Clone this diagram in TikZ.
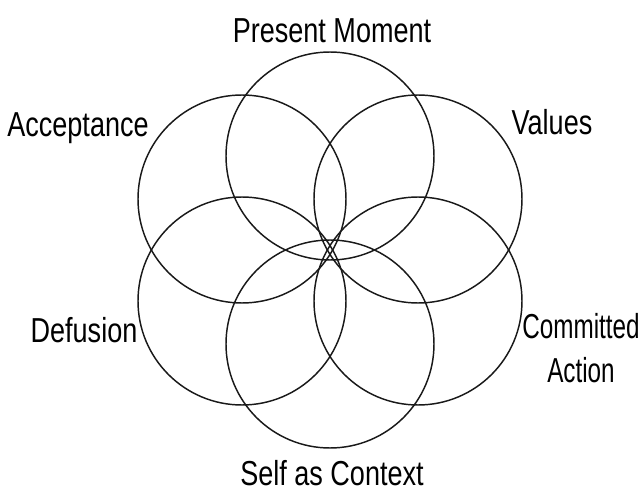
\documentclass[tikz,border=0pt]{standalone}
\usepackage{fontspec}
\setmainfont{Liberation Sans}
\usepackage{graphicx}
\usetikzlibrary{positioning}

\newcommand{\narrow}[2][0.78]{\scalebox{#1}[1]{#2}}

\begin{document}
\begin{tikzpicture}[x=0.75pt, y=-0.75pt,
		every node/.style={inner sep=0pt, font=\fontsize{26}{33}\selectfont},
		petal/.style={draw=black!90, line width=1.1pt}]
		\useasboundingbox (0,0) rectangle (644,492);

		% centres of the six circles
		\coordinate (mid) at (330,250);
		\coordinate (cpm) at (330,156);
		\coordinate (cval) at (418,199);
		\coordinate (cca) at (418,301);
		\coordinate (csc) at (330,344);
		\coordinate (cdef) at (242,301);
		\coordinate (cacc) at (242,199);

		\foreach \c in {cpm, cval, cca, csc, cdef, cacc}
			\draw [petal] (\c) circle (104);

		% labels
		\node at (332, 43) [anchor=base] (pm) {\narrow{Present Moment}};
		\node at (78, 137) [anchor=base] (acc) {\narrow{Acceptance}};
		\node at (552, 135) [anchor=base] (val) {\narrow{Values}};
		\node at (84, 343) [anchor=base] (def) {\narrow{Defusion}};
		\node at (581, 348) [align=center] (ca) {\narrow[0.7]{Committed}\\\narrow[0.7]{Action}};
		\node at (332, 485) [anchor=base] (sac) {\narrow{Self as Context}};
	\end{tikzpicture}
\end{document}
